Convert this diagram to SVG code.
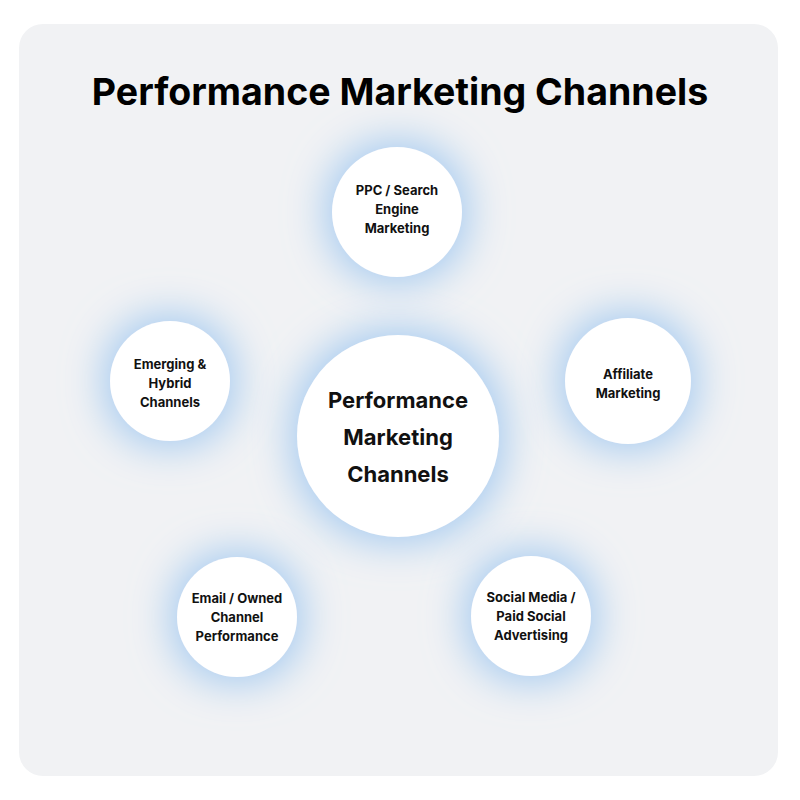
<svg xmlns="http://www.w3.org/2000/svg" width="800" height="800" viewBox="0 0 800 800">
<defs>
<filter id="glow" x="-60%" y="-60%" width="220%" height="220%">
<feMorphology in="SourceAlpha" operator="dilate" radius="6" result="d"/>
<feGaussianBlur in="d" stdDeviation="20" result="b"/>
<feFlood flood-color="#a4caf0" flood-opacity="1"/>
<feComposite in2="b" operator="in" result="s"/>
<feMerge><feMergeNode in="s"/><feMergeNode in="SourceGraphic"/></feMerge>
</filter>
<style>
.node{fill:#ffffff;filter:url(#glow);}
.lbl{font-family:Inter,"Liberation Sans",sans-serif;font-weight:700;font-size:13px;fill:#111111;text-anchor:middle;}
.big{font-family:Inter,"Liberation Sans",sans-serif;font-weight:700;font-size:22px;fill:#111111;text-anchor:middle;}
.title{font-family:Inter,"Liberation Sans",sans-serif;font-weight:700;font-size:37.5px;fill:#000000;text-anchor:middle;}
</style>
</defs>
<rect x="0" y="0" width="800" height="800" fill="#ffffff"/>
<rect x="19" y="24" width="759" height="752" rx="24" fill="#f1f2f4"/>
<text class="title" x="400" y="105">Performance Marketing Channels</text>
<g id="connectors"></g>
<g id="center">
<circle class="node" cx="398" cy="436" r="101"/>
<text class="big" x="398" y="408">Performance</text>
<text class="big" x="398" y="445">Marketing</text>
<text class="big" x="398" y="482">Channels</text>
</g>
<g id="ppc">
<circle class="node" cx="397" cy="212" r="65"/>
<text class="lbl" x="397" y="195">PPC / Search</text>
<text class="lbl" x="397" y="214">Engine</text>
<text class="lbl" x="397" y="233">Marketing</text>
</g>
<g id="affiliate">
<circle class="node" cx="628" cy="381" r="63"/>
<text class="lbl" x="628" y="379">Affiliate</text>
<text class="lbl" x="628" y="398">Marketing</text>
</g>
<g id="social">
<circle class="node" cx="531" cy="616" r="60"/>
<text class="lbl" x="531" y="602">Social Media /</text>
<text class="lbl" x="531" y="621">Paid Social</text>
<text class="lbl" x="531" y="640">Advertising</text>
</g>
<g id="email">
<circle class="node" cx="237" cy="617" r="60"/>
<text class="lbl" x="237" y="603">Email / Owned</text>
<text class="lbl" x="237" y="622">Channel</text>
<text class="lbl" x="237" y="641">Performance</text>
</g>
<g id="emerging">
<circle class="node" cx="170" cy="381" r="60"/>
<text class="lbl" x="170" y="369">Emerging &amp;</text>
<text class="lbl" x="170" y="388">Hybrid</text>
<text class="lbl" x="170" y="407">Channels</text>
</g>
</svg>
